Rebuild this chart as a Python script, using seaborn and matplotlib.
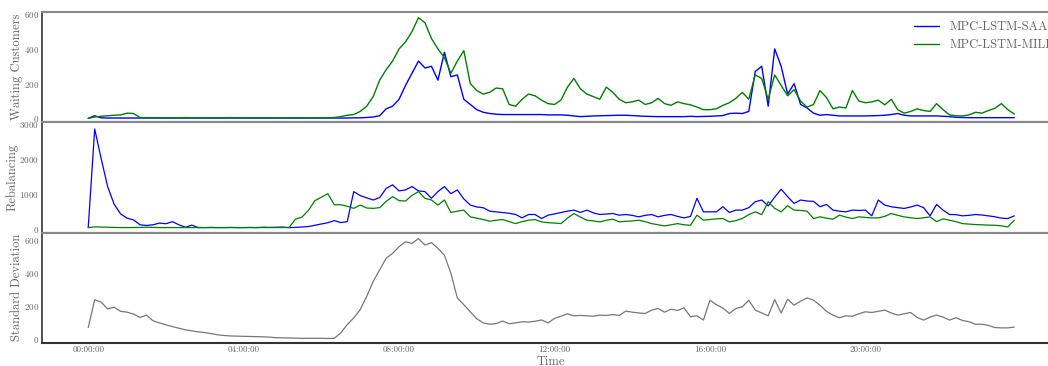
import numpy as np
import pandas as pd
import matplotlib
matplotlib.use('Agg')
import matplotlib.pyplot as plt
import matplotlib.dates as mdates
import seaborn as sns

# 10 minute steps, 00:00 to 23:50
times = pd.date_range('2020-01-01 00:00', periods=144, freq='10min')
tick_times = pd.date_range('2020-01-01 00:00', periods=6, freq='4h')

wait_saa = [
    0, 15, 3, 2, 2, 2,
    2, 2, 2, 2, 2, 2,
    2, 2, 2, 2, 2, 2,
    2, 2, 2, 2, 2, 2,
    2, 2, 2, 2, 2, 2,
    2, 2, 2, 2, 2, 2,
    2, 2, 2, 2, 2, 3,
    3, 5, 8, 15, 55, 70,
    110, 190, 260, 330, 290, 300,
    220, 380, 240, 250, 110, 80,
    50, 35, 28, 24, 22, 22,
    22, 22, 22, 22, 22, 20,
    20, 20, 18, 14, 10, 12,
    14, 15, 16, 17, 18, 18,
    16, 14, 12, 11, 10, 10,
    10, 10, 10, 12, 10, 11,
    12, 14, 16, 28, 30, 28,
    40, 270, 300, 70, 400, 300,
    140, 200, 80, 60, 30, 18,
    22, 18, 14, 14, 14, 14,
    14, 15, 16, 18, 22, 28,
    18, 14, 14, 14, 14, 14,
    12, 10, 6, 5, 4, 4,
    4, 4, 4, 4, 4, 4,
]

wait_milp = [
    0, 8, 12, 15, 18, 20,
    30, 28, 5, 3, 4, 3,
    3, 4, 3, 5, 3, 4,
    3, 3, 4, 3, 5, 3,
    4, 3, 3, 4, 3, 3,
    3, 3, 4, 3, 3, 3,
    3, 4, 5, 10, 18, 22,
    40, 70, 125, 220, 280, 330,
    400, 440, 500, 580, 550, 460,
    400, 350, 260, 330, 390, 200,
    160, 140, 150, 175, 170, 80,
    70, 110, 140, 130, 105, 85,
    80, 105, 180, 230, 170, 140,
    125, 110, 180, 150, 110, 90,
    95, 105, 80, 90, 115, 85,
    75, 95, 85, 78, 65, 50,
    50, 55, 75, 90, 115, 150,
    110, 250, 230, 110, 250, 190,
    130, 165, 100, 65, 80, 160,
    120, 55, 65, 60, 160, 100,
    90, 95, 105, 78, 110, 50,
    30, 40, 55, 45, 40, 85,
    50, 20, 15, 14, 20, 35,
    30, 45, 58, 85, 50, 25,
]

rebal_saa = [
    30, 2850, 2000, 1200, 700, 420,
    300, 250, 110, 90, 110, 160,
    140, 200, 110, 40, 100, 30,
    30, 35, 30, 30, 35, 30,
    30, 35, 30, 40, 35, 40,
    45, 30, 35, 48, 60, 96,
    130, 170, 230, 173, 200, 1060,
    944, 880, 819, 886, 1150, 1252,
    1079, 1107, 1204, 1079, 1060, 867,
    1060, 1204, 1000, 1107, 850, 674,
    620, 597, 500, 481, 462, 440,
    404, 308, 404, 404, 289, 385,
    420, 462, 500, 530, 462, 530,
    450, 404, 420, 433, 385, 404,
    380, 337, 380, 404, 337, 380,
    404, 350, 308, 350, 867, 481,
    481, 481, 626, 462, 530, 530,
    600, 770, 819, 650, 900, 1127,
    915, 722, 819, 790, 780, 626,
    693, 530, 500, 481, 530, 520,
    530, 366, 819, 674, 626, 600,
    578, 620, 674, 600, 366, 693,
    530, 404, 400, 366, 380, 404,
    390, 366, 340, 300, 289, 366,
]

rebal_milp = [
    30, 50, 45, 40, 35, 30,
    30, 30, 35, 40, 35, 30,
    30, 28, 30, 32, 30, 28,
    30, 30, 28, 30, 32, 30,
    30, 28, 30, 30, 32, 30,
    30, 30, 270, 330, 520, 800,
    900, 1000, 680, 684, 640, 580,
    674, 590, 580, 600, 780, 915,
    800, 790, 950, 1060, 867, 819,
    674, 819, 462, 500, 530, 337,
    300, 260, 212, 240, 260, 200,
    144, 200, 241, 260, 193, 170,
    160, 144, 300, 433, 330, 241,
    220, 193, 240, 270, 193, 210,
    220, 241, 200, 144, 110, 77,
    110, 144, 110, 96, 385, 241,
    260, 280, 289, 193, 230, 289,
    400, 481, 400, 770, 578, 481,
    655, 530, 520, 500, 289, 337,
    300, 270, 385, 330, 289, 337,
    320, 308, 308, 350, 433, 380,
    337, 310, 289, 310, 337, 200,
    280, 241, 200, 144, 130, 116,
    110, 100, 96, 80, 48, 241,
]

std_dev = [
    72, 240, 225, 185, 195, 170,
    165, 153, 133, 147, 113, 100,
    88, 78, 68, 58, 52, 46,
    42, 35, 28, 24, 21, 20,
    19, 18, 17, 16, 14, 11,
    10, 9, 8, 7, 7, 7,
    7, 6, 7, 40, 90, 130,
    180, 260, 350, 420, 490, 520,
    560, 590, 580, 609, 570, 585,
    550, 509, 400, 250, 210, 167,
    125, 100, 92, 96, 111, 95,
    100, 107, 105, 110, 118, 100,
    127, 140, 155, 143, 145, 143,
    140, 147, 145, 150, 145, 171,
    165, 160, 157, 177, 187, 165,
    183, 175, 191, 137, 143, 117,
    237, 210, 190, 157, 187, 197,
    237, 177, 160, 143, 241, 160,
    243, 207, 231, 251, 237, 207,
    170, 147, 131, 143, 140, 155,
    167, 163, 170, 177, 160, 147,
    155, 163, 133, 117, 135, 147,
    135, 117, 131, 115, 107, 92,
    92, 85, 72, 70, 70, 75,
]

methods = ['MPC-LSTM-SAA', 'MPC-LSTM-MILP']
palette = {'MPC-LSTM-SAA': '#0000ff', 'MPC-LSTM-MILP': '#008000'}

wait_df = pd.DataFrame({'Time': np.concatenate([times, times]),
                        'value': wait_saa + wait_milp,
                        'method': [methods[0]] * 144 + [methods[1]] * 144})
rebal_df = pd.DataFrame({'Time': np.concatenate([times, times]),
                         'value': rebal_saa + rebal_milp,
                         'method': [methods[0]] * 144 + [methods[1]] * 144})
std_df = pd.DataFrame({'Time': times, 'value': std_dev})

sns.set_style('white')
plt.rcParams['font.family'] = 'serif'
plt.rcParams['font.serif'] = ['cmr10', 'DejaVu Serif']
plt.rcParams['axes.formatter.use_mathtext'] = True
plt.rcParams['axes.unicode_minus'] = False

txt = '#666666'

fig, axes = plt.subplots(3, 1, sharex=True, figsize=(10.48, 3.66), dpi=100)
fig.subplots_adjust(left=0.040, right=1.012, top=0.967, bottom=0.063, hspace=0)

sns.lineplot(data=wait_df, x='Time', y='value', hue='method', palette=palette,
             linewidth=1, ax=axes[0])
sns.lineplot(data=rebal_df, x='Time', y='value', hue='method', palette=palette,
             linewidth=0.9, ax=axes[1], legend=False)
sns.lineplot(data=std_df, x='Time', y='value', color='#777777', linewidth=0.9, ax=axes[2])

axes[0].set_ylim(-23, 612)
axes[1].set_ylim(-115, 3040)
axes[2].set_ylim(-21, 645)
axes[0].set_yticks([0, 200, 400, 600])
axes[1].set_yticks([0, 1000, 2000, 3000])
axes[2].set_yticks([0, 200, 400, 600])

axes[0].set_ylabel('Waiting Customers', fontsize=9, color=txt, labelpad=1)
axes[1].set_ylabel('Rebalancing', fontsize=9, color=txt, labelpad=1)
axes[2].set_ylabel('Standard Deviation', fontsize=9, color=txt, labelpad=1)
axes[0].set_xlabel('')
axes[1].set_xlabel('')
axes[2].set_xlabel('Time', fontsize=9, color=txt, labelpad=1)

for ax in axes:
    ax.tick_params(axis='both', length=0, labelsize=6.5, labelcolor=txt, pad=2)
    ax.spines['top'].set_color('#888888')
    ax.spines['top'].set_linewidth(1.5)
    ax.spines['bottom'].set_color('#333333')
    ax.spines['bottom'].set_linewidth(1.5)
    ax.spines['left'].set_color('#333333')
    ax.spines['left'].set_linewidth(1.2)
    ax.spines['right'].set_visible(False)

axes[2].set_xticks(tick_times)
axes[2].xaxis.set_major_formatter(mdates.DateFormatter('%H:%M:%S'))

leg = axes[0].legend(loc='upper left', bbox_to_anchor=(0.848, 1.0), frameon=False,
                     fontsize=9, handlelength=2.0, borderaxespad=0.3)
for t in leg.get_texts():
    t.set_color(txt)

fig.savefig('out.png', dpi=100)
